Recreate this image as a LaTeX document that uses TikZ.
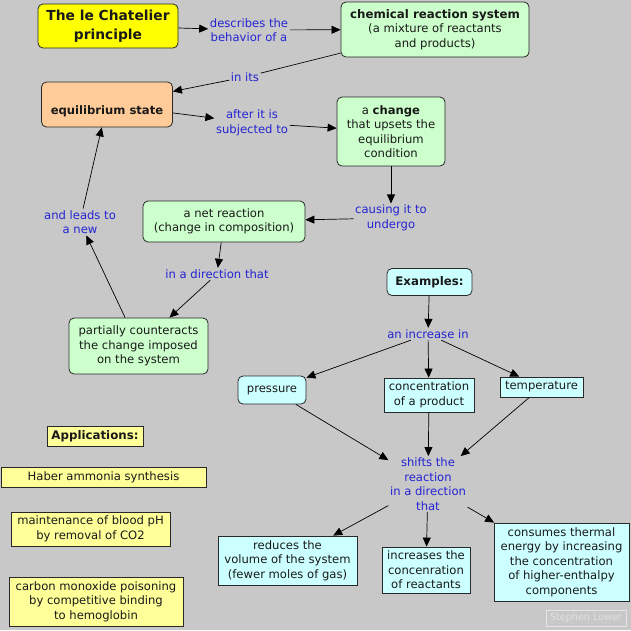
\documentclass[tikz,border=0pt]{standalone}
\usepackage{fontspec}
\setmainfont{DejaVu Sans}
\usetikzlibrary{arrows.meta}
\definecolor{bg}{RGB}{200,200,200}
\definecolor{linkblue}{RGB}{35,35,210}
\definecolor{yelA}{RGB}{255,255,0}
\definecolor{yelB}{RGB}{255,255,153}
\definecolor{grn}{RGB}{204,255,204}
\definecolor{org}{RGB}{255,204,153}
\definecolor{cyn}{RGB}{204,255,255}
\definecolor{edge}{RGB}{40,40,40}
\tikzset{
  box/.style={draw=edge, line width=0.8pt, align=center, inner sep=2pt, text=black!90},
  rbox/.style={box, rounded corners=5pt},
  lbl/.style={text=linkblue, align=center, inner sep=1.5pt},
  arr/.style={-{Triangle[length=9pt,width=8pt]}, line width=0.7pt, black},
  bfnt/.style={font=\bfseries\fontsize{11.8}{14.5}\selectfont},
}
\begin{document}
\begin{tikzpicture}[x=1pt,y=-1pt,font=\fontsize{11.6}{14.5}\selectfont]
\useasboundingbox (0,0) rectangle (631,630);
\fill[bg] (0,0) rectangle (631,630);

% top chain
\node[rbox, fill=yelA, minimum width=140, minimum height=44, font=\bfseries\fontsize{13.8}{19}\selectfont] (prin) at (108,26) {The le Chatelier\\principle};
\node[lbl] (desc) at (249,30) {describes the\\behavior of a};
\node[rbox, fill=grn, minimum width=188, minimum height=55] (chem) at (435,29.5) {\textbf{\fontsize{11.8}{14.5}\selectfont chemical reaction system}\\(a mixture of reactants\\and products)};
\node[lbl] (inits) at (245,77) {in its};
\node[rbox, fill=org, minimum width=131, minimum height=45] (eq) at (107,104.5) {\vphantom{A}\\\textbf{equilibrium state}};
\node[lbl] (after) at (252,123) {after it is\\subjected to};
\node[rbox, fill=grn, minimum width=108, minimum height=69] (chg) at (391,131.5) {a \textbf{change}\\that upsets the\\equilibrium\\condition};
\node[lbl] (caus) at (391,218) {causing it to\\undergo};
\node[rbox, fill=grn, minimum width=162, minimum height=41] (net) at (224,221.5) {a net reaction\\(change in composition)};
\node[lbl] (indir) at (217,274) {in a direction that};
\node[rbox, fill=grn, minimum width=139, minimum height=56] (part) at (138.5,346) {partially counteracts\\the change imposed\\on the system};
\node[lbl] (leads) at (80,222) {and leads to\\a new};

% examples
\node[rbox, fill=cyn, minimum width=85, minimum height=27, bfnt] (ex) at (429.5,282) {Examples:};
\node[lbl] (inc) at (428,334) {an increase in};
\node[rbox, fill=cyn, minimum width=68, minimum height=28] (pres) at (272,390) {pressure};
\node[box, fill=cyn, minimum width=90, minimum height=34] (conc) at (429,395) {concentration\\of a product};
\node[box, fill=cyn, minimum width=83, minimum height=20] (temp) at (541.5,387) {temperature};
\node[lbl] (shift) at (428,484) {shifts the\\reaction\\in a direction\\that};
\node[box, fill=cyn, minimum width=139, minimum height=49] (red) at (287.5,560.5) {reduces the\\volume of the system\\(fewer moles of gas)};
\node[box, fill=cyn, minimum width=88, minimum height=46] (incr) at (426,570) {increases the\\concenration\\of reactants};
\node[box, fill=cyn, minimum width=135, minimum height=78] (cons) at (561.5,562) {consumes thermal\\energy by increasing\\the concentration\\of higher-enthalpy\\components};

% applications
\node[box, fill=yelB, minimum width=96, minimum height=20, bfnt] (app) at (95,436) {Applications:};
\node[box, fill=yelB, minimum width=205, minimum height=20] (haber) at (103.5,477) {Haber ammonia synthesis};
\node[box, fill=yelB, minimum width=159, minimum height=34] (blood) at (90.5,529) {maintenance of blood pH\\by removal of CO2};
\node[box, fill=yelB, minimum width=174, minimum height=49] (co) at (96,601.5) {carbon monoxide poisoning\\by competitive binding\\to hemoglobin};

% credit
\node[draw=black!10, line width=0.7pt, text=black!12, minimum width=80, minimum height=16, inner sep=1pt, font=\fontsize{9.6}{11}\selectfont] (sl) at (586,618) {Stephen Lower};

% connectors
\draw[arr] (prin) -- (desc);
\draw[arr] (desc) -- (chem);
\draw[arr] (chem) -- (inits) -- (eq);
\draw[arr] (eq) -- (after);
\draw[arr] (after) -- (chg);
\draw[arr] (chg) -- (caus);
\draw[arr] (caus) -- (net);
\draw[arr] (net) -- (indir);
\draw[arr] (indir) -- (part);
\draw[arr] (part) -- (leads);
\draw[arr] (leads) -- (eq);
\draw[arr] (ex) -- (inc);
\draw[arr] (inc) -- (pres);
\draw[arr] (inc) -- (conc);
\draw[arr] (inc) -- (temp);
\draw[arr] (pres) -- (shift);
\draw[arr] (conc) -- (shift);
\draw[arr] (temp) -- (shift);
\draw[arr] (shift) -- (red);
\draw[arr] (shift) -- (incr);
\draw[arr] (shift) -- (cons);
\end{tikzpicture}
\end{document}
